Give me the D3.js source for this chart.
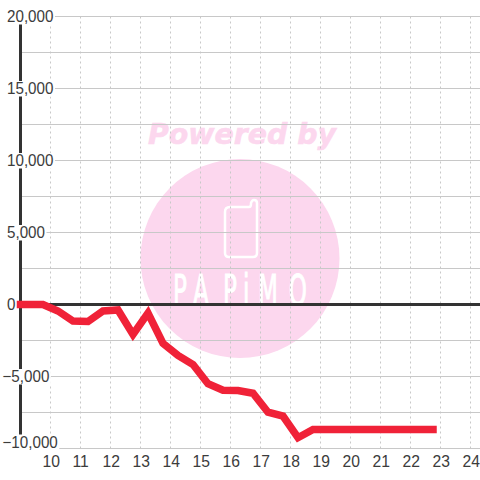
<!DOCTYPE html>
<html><head><meta charset="utf-8">
<script src="https://cdn.jsdelivr.net/npm/d3@7/dist/d3.min.js"></script>
<style>html,body{margin:0;padding:0;background:#fff}svg{display:block}text{font-family:"Liberation Sans",Arial,sans-serif}</style>
</head><body><svg id="c" width="480" height="480"></svg>
<script>
const hours = [9,9.75,10.25,10.75,11.25,11.75,12.25,12.75,13.25,13.75,14.25,14.75,15.25,15.75,16.25,16.75,17.25,17.75,18.25,18.75,19.25,19.75,20.25,20.75,21.25,21.75,22.25,22.75];
const values = [0,0,-450,-1150,-1180,-450,-380,-2080,-600,-2700,-3540,-4170,-5500,-5950,-5980,-6160,-7480,-7750,-9250,-8680,-8680,-8680,-8680,-8680,-8680,-8680,-8680,-8680];
const xTicks = [10,11,12,13,14,15,16,17,18,19,20,21,22,23,24];
const yMajor = [20000,15000,10000,5000,0,-5000,-10000];
const yMinor = [17500,12500,7500,2500,-2500,-7500];
const x = d3.scaleLinear().domain([9,24]).range([20.5,470.5]);
const y = d3.scaleLinear().domain([20000,-10000]).range([16.5,448.5]);
const svg = d3.select("#c");
const fmt = d3.format(",");
const logo = svg.append("g");
logo.append("circle").attr("cx",240).attr("cy",258.5).attr("r",99.5).attr("fill","#fcd7ee");
logo.append("text").attr("x",242).attr("y",144).attr("text-anchor","middle").attr("fill","#fcd7ee")
  .style("font-family","DejaVu Sans").style("font-weight","bold").style("font-style","italic").style("font-size","28.5px").attr("textLength",188).attr("lengthAdjust","spacingAndGlyphs").attr("stroke","#fcd7ee").attr("stroke-width",0.6).text("Powered by");
logo.append("path").attr("fill","none").attr("stroke","#fff").attr("stroke-width",2.5).attr("stroke-linejoin","round")
  .attr("d","M230 207 H249 Q251 207 251 204 V203 Q252 200 254 200 Q257 200 257 203 V253 Q257 257 253 257 H229 Q225 257 225 253 V212 Q225 207 230 207 Z");
logo.append("text").attr("transform","scale(0.55,1)").attr("x","314.5 351 405.5 442 469 525").attr("y",305).attr("fill","#fff")
  .attr("stroke","#fff").attr("stroke-width",1)
  .style("font-family","DejaVu Sans").style("font-size","42px").text("PAPiMO");
const gridG = svg.append("g").attr("fill","none");
gridG.selectAll("line.v").data(xTicks).join("line").attr("class","v")
  .attr("x1",d=>x(d)).attr("x2",d=>x(d)).attr("y1",y(20000)).attr("y2",y(-10000))
  .attr("stroke","#c8c8c8").attr("stroke-dasharray","2,3");
gridG.selectAll("line.h").data(yMajor.concat(yMinor).filter(d=>d!==0)).join("line").attr("class","h")
  .attr("x1",x(9)).attr("x2",480).attr("y1",d=>y(d)).attr("y2",d=>y(d))
  .attr("stroke","#c8c8c8").attr("stroke-width",1);
svg.append("line").attr("x1",x(9)).attr("x2",x(9)).attr("y1",y(20000)).attr("y2",y(-10000)).attr("stroke","#333").attr("stroke-width",3);
svg.append("line").attr("x1",x(9)).attr("x2",480).attr("y1",y(0)).attr("y2",y(0)).attr("stroke","#333").attr("stroke-width",3);
const squeeze = function(){return this.getComputedTextLength()*0.95;};
const labelY = d=>d===-10000?y(d)-1:y(d)+5.5;
const labelX = d=>d<0?2.5:7;
const bg = svg.append("g").attr("fill","#fff");
const labels = svg.append("g").style("font-size","16.5px").attr("fill","#3c3c3c");
labels.selectAll("text").data(yMajor).join("text")
  .attr("x",labelX).attr("y",labelY).text(d=>fmt(d))
  .attr("lengthAdjust","spacingAndGlyphs").attr("textLength",function(){return this.getComputedTextLength()*0.92;})
  .each(function(d){
    const w=+this.getAttribute("textLength");
    bg.append("rect").attr("x",labelX(d)-1).attr("y",labelY(d)-13).attr("width",w+2.5).attr("height",15.5);
  });
const xl = svg.append("g").style("font-size","16.5px").attr("fill","#3c3c3c");
xl.selectAll("text").data(xTicks).join("text").attr("x",d=>x(d)-8).attr("y",466.5)
  .text(d=>d).attr("lengthAdjust","spacingAndGlyphs").attr("textLength",squeeze);
const line = d3.line().x((d,i)=>x(hours[i])).y(d=>y(d));
svg.append("path").datum(values).attr("d",line).attr("fill","none").attr("stroke","#f02238").attr("stroke-width",7.5).attr("stroke-linecap","square");
</script></body></html>
